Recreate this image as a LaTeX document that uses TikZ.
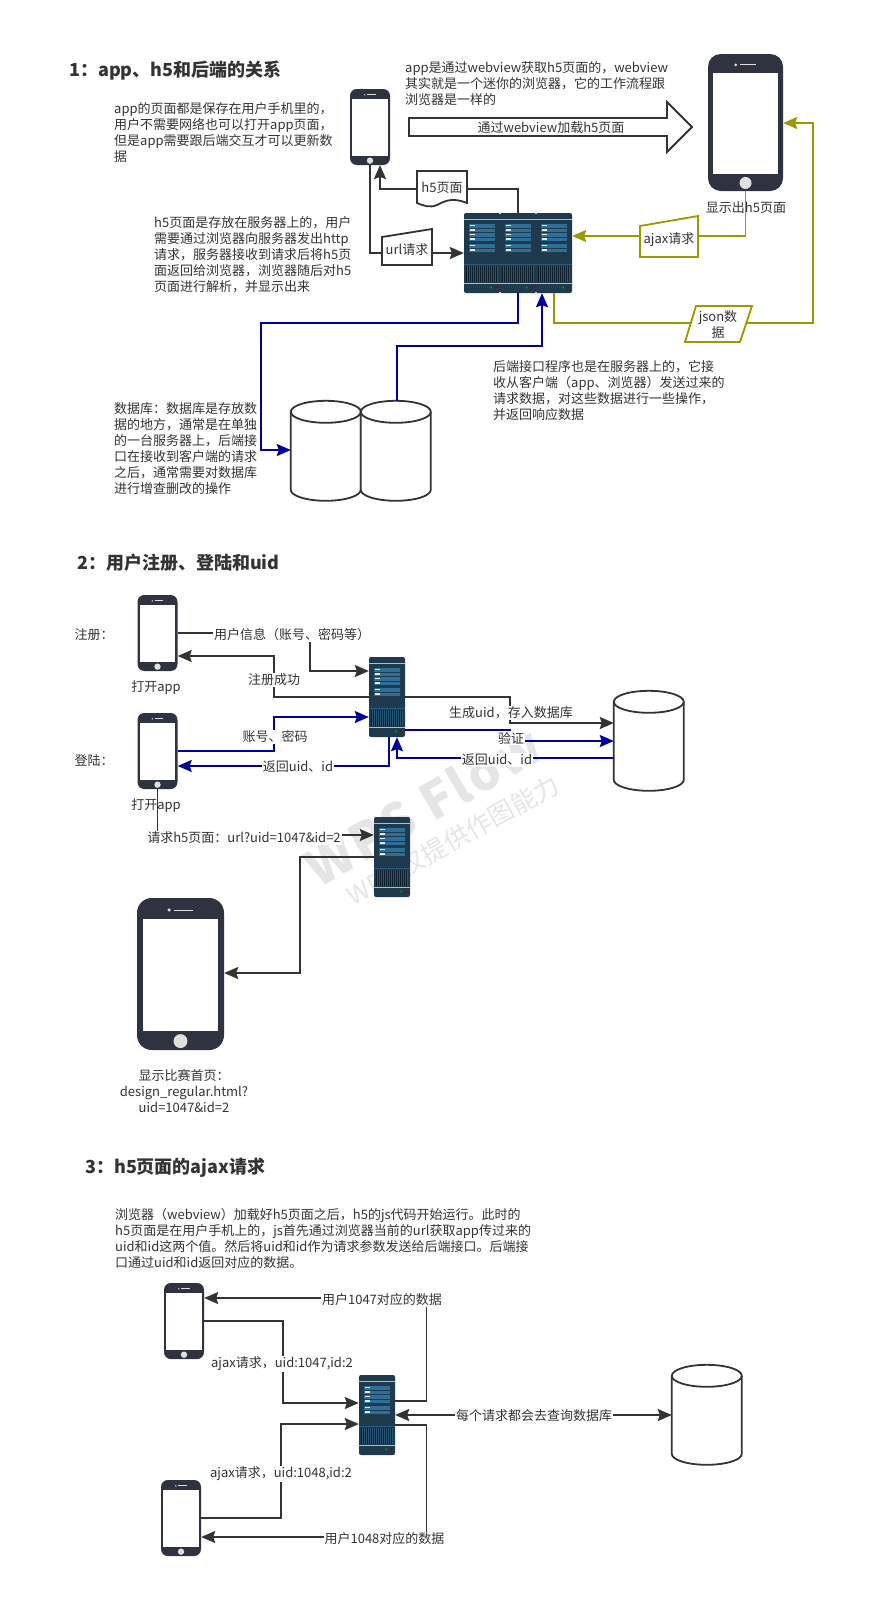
\documentclass[tikz,border=0pt]{standalone}
\usepackage{fontspec}
\setmainfont{Noto Sans CJK SC}
\usetikzlibrary{arrows.meta, calc}
\definecolor{inkgray}{HTML}{333333}
\definecolor{myblue}{HTML}{000099}
\definecolor{myolive}{HTML}{999900}
\definecolor{phonedark}{HTML}{2F3340}
\definecolor{srvdark}{HTML}{1F3A4C}
\definecolor{srvbar}{HTML}{2F6E96}
\definecolor{srvvent}{HTML}{0C1E2B}
\tikzset{
  phonebody/.style={draw=none, fill=phonedark, rounded corners=#1, inner sep=0pt},
  srvbody/.style={fill=srvdark, rounded corners=2pt, inner sep=0pt,
                  minimum height=80pt},
  dbbox/.style={inner sep=0pt, minimum width=70pt, minimum height=100pt},
  txt/.style={anchor=west, align=left, inner sep=0pt, text=inkgray, yshift=-1pt,
              font=\fontsize{13}{16}\selectfont},
  ttl/.style={anchor=west, inner sep=0pt, text=inkgray, yshift=-1pt,
              font=\fontsize{18}{20}\selectfont\bfseries},
  lbl/.style={fill=white, inner sep=1pt, text=inkgray, yshift=-1pt,
              font=\fontsize{13}{16}\selectfont},
  ln/.style ={draw=inkgray, line width=1.8pt},
  blu/.style={draw=myblue, line width=1.8pt},
  olv/.style={draw=myolive, line width=1.8pt},
  arr/.style={-{Stealth[length=14pt, width=12pt, inset=2pt]}},
  arrb/.style={{Stealth[length=14pt, width=12pt, inset=2pt]}-{Stealth[length=14pt, width=12pt, inset=2pt]}},
}
% phone: name, centre x, centre y, width, height
\newcommand{\phonenode}[5]{%
  \pgfmathsetmacro{\phw}{#4}\pgfmathsetmacro{\phh}{#5}%
  \node[phonebody=#4*0.17pt, minimum width=#4pt, minimum height=#5pt] (#1) at (#2,#3) {};
  \fill[white] ($(#1.north west)+(\phw*0.067,\phh*0.139)$)
    rectangle ($(#1.south east)+(-\phw*0.067,-\phh*0.124)$);
  \fill[gray!25] ($(#1.south)+(0,-\phh*0.06)$) circle ({\phw*0.08});
  \fill[gray!25] ($(#1.north)+(-\phw*0.13,\phh*0.08)$) circle ({\phw*0.02});
  \draw[gray!25, line width=0.8pt] ($(#1.north)+(-\phw*0.07,\phh*0.08)$)
    -- ($(#1.north)+(\phw*0.14,\phh*0.08)$);
}
% one server bay, drawn from its top left corner
\newcommand{\srvbay}[2]{%
  \begin{scope}[shift={(#1,#2)}]
    \fill[gray!55] (0,5.5) rectangle (36,7);
    \fill[gray!55] (0,69.5) rectangle (36,71);
    \fill[srvbar!60!srvdark] (0,50.8) rectangle (36,51.4);
    \fill[srvvent] (2,52.5) rectangle (34,69);
    \foreach \vx in {3,5,...,33} {\fill[srvbar!55!srvdark] (\vx,53) rectangle ++(0.6,15.5);}
    \foreach \by in {11,20,31} {
      \fill[srvbar] (5,\by) rectangle (31,\by+8);
      \fill[srvdark] (5,\by+3.7) rectangle (31,\by+4.3);
      \fill[white!85!srvbar] (6,\by+1) rectangle (11,\by+2.4);
      \fill[white!85!srvbar] (6,\by+5.2) rectangle (11,\by+6.6);
    }
    \fill[green!55!black] (27,74.5) circle (1.3);
    \fill[red!55!black] (32,74.5) circle (1.3);
  \end{scope}
}
% database: name, centre x, centre y
\newcommand{\dbnode}[3]{%
  \node[dbbox] (#1) at (#2,#3) {};
  \draw[draw=inkgray, fill=white, line width=1.8pt] (#1.north west)++(0,11)
    arc[start angle=180, end angle=0, x radius=35, y radius=-11]
    -- ++(0,78) arc[start angle=0, end angle=-180, x radius=35, y radius=-11] -- cycle;
  \draw[draw=inkgray, line width=1.8pt] (#1.north west)++(0,11)
    arc[start angle=180, end angle=360, x radius=35, y radius=-11];
}
\begin{document}
\begin{tikzpicture}[x=1pt, y=-1pt]
  \useasboundingbox (0,0) rectangle (875,1618);

  % ── WATERMARK ──────────────────────────────────────────
  \node[rotate=30, text=gray!20, font=\fontsize{50}{54}\selectfont\bfseries\addfontfeature{LetterSpace=5}] (wmA) at (423,806) {WPS Flow};
  \node[rotate=29, text=gray!20, font=\fontsize{25.5}{30}\selectfont] (wmB) at (453,840) {WPS 仅提供作图能力};

  % ── PART 1 ─────────────────────────────────────────────
  \node[ttl] (ttlA) at (69,70) {1：app、h5和后端的关系};
  \node[txt] (txtA) at (114,132) {app的页面都是保存在用户手机里的，\\用户不需要网络也可以打开app页面，\\但是app需要跟后端交互才可以更新数\\据};
  \node[txt] (txtB) at (154,254) {h5页面是存放在服务器上的，用户\\需要通过浏览器向服务器发出http\\请求，服务器接收到请求后将h5页\\面返回给浏览器，浏览器随后对h5\\页面进行解析，并显示出来};
  \node[txt] (txtC) at (405,83) {app是通过webview获取h5页面的，webview\\其实就是一个迷你的浏览器，它的工作流程跟\\浏览器是一样的};
  \node[txt] (txtD) at (114,448) {数据库：数据库是存放数\\据的地方，通常是在单独\\的一台服务器上，后端接\\口在接收到客户端的请求\\之后，通常需要对数据库\\进行增查删改的操作};
  \node[txt] (txtE) at (493,390) {后端接口程序也是在服务器上的，它接\\收从客户端（app、浏览器）发送过来的\\请求数据，对这些数据进行一些操作，\\并返回响应数据};

  \phonenode{phA}{370}{127}{40}{76}
  \phonenode{phB}{745.5}{122.5}{75}{137}
  \node[lbl, fill=none] (capB) at (746,207) {显示出h5页面};

  % block arrow
  \node[lbl, fill=none] (webv) at (551,127) {通过webview加载h5页面};
  \draw[ln] (409,118) -- (667,118) -- (667,102) -- (692,127) -- (667,152)
    -- (667,136) -- (409,136) -- cycle;

  % servers
  \node[srvbody, minimum width=108pt] (srvA) at (518,253) {};
  \srvbay{464}{213} \srvbay{500}{213} \srvbay{536}{213}
  \foreach \sx in {500,536} {
    \fill[white] (\sx,213) circle (1.2);
    \fill[white] (\sx,293) circle (1.2);
  }

  % h5 page and url request
  \coordinate (docL) at (417,189);
  \coordinate (docR) at (467,189);
  \draw[ln, fill=white] (417,171) -- (467,171) -- (467,203)
    .. controls (452,197) and (445,201) .. (437,205)
    .. controls (430,208) and (424,206) .. (417,203) -- cycle;
  \node[lbl, fill=none] (docA) at (442,187) {h5页面};
  \coordinate (urlL) at (382,253);
  \coordinate (urlR) at (432,253);
  \draw[ln, fill=white] (382,237) -- (432,229) -- (432,265) -- (382,265) -- cycle;
  \node[lbl, fill=none] (urlA) at (407,249) {url请求};
  \draw[ln, arr] (docL) -- (380,189) -- (380,165);
  \draw[ln] (srvA.north) -- (518,189) -- (docR);
  \draw[ln] (phA.south) -- (370,253) -- (urlL);
  \draw[ln, arr] (urlR) -- (srvA.west |- urlR);

  % ajax and json
  \coordinate (ajaxL) at (640,236);
  \coordinate (ajaxR) at (698,236);
  \draw[olv] (phB.south) -- (745.5,236) -- (ajaxR);
  \draw[olv, fill=white] (640,226) -- (698,216) -- (698,257) -- (640,257) -- cycle;
  \node[lbl, fill=none] (ajaxA) at (669,239) {ajax请求};
  \draw[olv, arr] (ajaxL) -- (srvA.east |- ajaxL);
  \coordinate (jsonL) at (690,323);
  \coordinate (jsonR) at (747,323);
  \draw[olv] (554,0 |- srvA.south) -- (554,323) -- (jsonL);
  \draw[olv, arr] (jsonR) -- (813,323) -- (813,123) -- (phB.east |- 0,123);
  \draw[olv, fill=white] (696,306) -- (752,306) -- (740,342) -- (685,342) -- cycle;
  \node[lbl, fill=none, align=center] (jsonA) at (718,324) {json数\\据};

  % databases
  \dbnode{dbA}{326}{451}
  \dbnode{dbB}{396}{451}
  \draw[blu, arr] (srvA.south) -- (518,323) -- (261,323) -- (261,450) -- (dbA.west |- 0,450);
  \draw[blu, arr] (397,0 |- dbB.north) -- (397,346) -- (542,346) -- (542,0 |- srvA.south);

  % ── PART 2 ─────────────────────────────────────────────
  \node[ttl] (ttlB) at (77,562) {2：用户注册、登陆和uid};
  \node[lbl, fill=none] (regA) at (94,634) {注册：};
  \node[lbl, fill=none] (logA) at (94,760) {登陆：};
  \phonenode{phC}{157.5}{633}{40}{76}
  \phonenode{phD}{157.5}{751}{40}{76}
  \node[lbl, fill=none] (capC) at (156,687) {打开app};
  \node[lbl, fill=none] (capD) at (156,805) {打开app};
  \node[srvbody, minimum width=36pt] (srvB) at (387,697) {};
  \srvbay{369}{657}
  \node[srvbody, minimum width=36pt] (srvC) at (392,857) {};
  \srvbay{374}{817}
  \dbnode{dbC}{649}{741}

  \draw[ln, arr] (phC.east) -- (310,633) -- (310,671) -- (srvB.west |- 0,671);
  \node[lbl] (lblA) at (292,634) {用户信息（账号、密码等）};
  \draw[ln, arr] (srvB.west |- 0,697) -- (274,697) -- (274,656) -- (phC.east |- 0,656);
  \node[lbl] (lblB) at (274,679) {注册成功};
  \draw[blu, arr] (phD.east) -- (274,751) -- (274,717) -- (srvB.west |- 0,717);
  \node[lbl] (lblC) at (275,736) {账号、密码};
  \draw[blu, arr] (389,0 |- srvB.south) -- (389,766) -- (phD.east |- 0,766);
  \node[lbl] (lblD) at (298,766) {返回uid、id};
  \draw[ln, arr] (srvB.east |- 0,697) -- (510,697) -- (510,723) -- (dbC.west |- 0,723);
  \node[lbl] (lblE) at (511,712) {生成uid，存入数据库};
  \draw[blu, arr] (srvB.east |- 0,730) -- (510,730) -- (510,741) -- (dbC.west |- 0,741);
  \node[lbl] (lblF) at (511,737) {验证};
  \draw[blu, arr] (dbC.west |- 0,758) -- (397,758) -- (397,0 |- srvB.south);
  \node[lbl] (lblG) at (497,759) {返回uid、id};
  \draw[ln, arr] (phD.south) -- (157.5,835) -- (srvC.west |- 0,835);
  \node[lbl] (lblH) at (244,837) {请求h5页面：url?uid=1047\&id=2};

  \phonenode{phE}{180.5}{974}{87}{152}
  \draw[ln, arr] (srvC.west |- 0,857) -- (300,857) -- (300,973) -- (phE.east |- 0,973);
  \node[lbl, fill=none, align=center] (capE) at (184,1090) {显示比赛首页：\\design\_regular.html?\\uid=1047\&id=2};

  % ── PART 3 ─────────────────────────────────────────────
  \node[ttl] (ttlC) at (85,1167) {3：h5页面的ajax请求};
  \node[txt] (txtF) at (115,1237) {浏览器（webview）加载好h5页面之后，h5的js代码开始运行。此时的\\h5页面是在用户手机上的，js首先通过浏览器当前的url获取app传过来的\\uid和id这两个值。然后将uid和id作为请求参数发送给后端接口。后端接\\口通过uid和id返回对应的数据。};
  \phonenode{phF}{184}{1321}{40}{76}
  \phonenode{phG}{181}{1518}{40}{76}
  \node[srvbody, minimum width=36pt] (srvD) at (377,1415) {};
  \srvbay{359}{1375}
  \dbnode{dbD}{707}{1415}

  \draw[ln, arr] (srvD.east |- 0,1401) -- (426.5,1401) -- (426.5,1298) -- (phF.east |- 0,1298);
  \node[lbl] (lblI) at (382,1299) {用户1047对应的数据};
  \draw[ln, arr] (phF.east) -- (283,1321) -- (283,1403) -- (srvD.west |- 0,1403);
  \node[lbl] (lblJ) at (282,1363) {ajax请求，uid:1047,id:2};
  \draw[ln, arr] (phG.east) -- (281,1518) -- (281,1424) -- (srvD.west |- 0,1424);
  \node[lbl] (lblK) at (281,1473) {ajax请求，uid:1048,id:2};
  \draw[ln, arr] (srvD.east |- 0,1425) -- (426.5,1425) -- (426.5,1537) -- (phG.east |- 0,1537);
  \node[lbl] (lblL) at (384.5,1538) {用户1048对应的数据};
  \draw[ln, arrb] (srvD.east) -- (dbD.west);
  \node[lbl] (lblM) at (534,1415) {每个请求都会去查询数据库};
\end{tikzpicture}
\end{document}
